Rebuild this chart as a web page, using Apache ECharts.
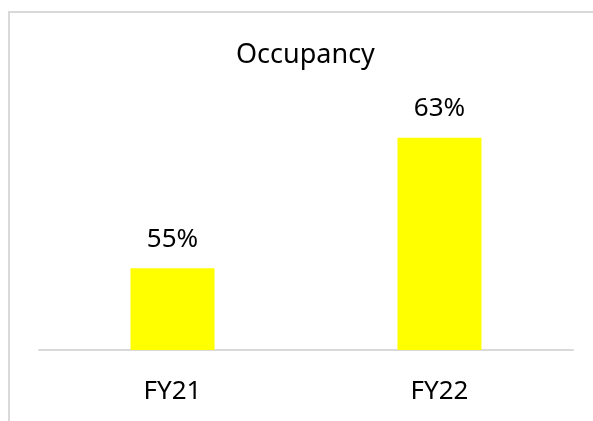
<!DOCTYPE html>
<html>
<head>
<meta charset="utf-8">
<script src="https://cdn.jsdelivr.net/npm/echarts@6/dist/echarts.min.js"></script>
<style>
  html, body { margin: 0; padding: 0; background: #fff; }
  #chart { width: 593px; height: 421px; }
</style>
</head>
<body>
<div id="chart"></div>
<script>
var categories = ['FY21', 'FY22']
var occupancy = [55, 63]

var chart = echarts.init(document.getElementById('chart'))
var font = 'Noto Sans'

var option = {
  animation: false,
  title: {
    text: 'Occupancy',
    left: 236,
    top: 42,
    padding: 0,
    textStyle: { fontFamily: font, fontSize: 27, fontWeight: 'normal', color: '#000' }
  },
  // outer chart frame, runs off the right and bottom edges
  graphic: [
    {
      type: 'rect',
      silent: true,
      shape: { x: 9, y: 12, width: 620, height: 440 },
      style: { fill: 'none', stroke: '#d9d9d9', lineWidth: 2 }
    }
  ],
  grid: { left: 39, right: 20, top: 23.4, bottom: 71 },
  xAxis: {
    type: 'category',
    data: categories,
    axisLine: { lineStyle: { color: '#d9d9d9', width: 2 } },
    axisTick: { show: false },
    axisLabel: { fontFamily: font, fontSize: 26, color: '#000', margin: 29 }
  },
  yAxis: {
    type: 'value',
    min: 50,
    max: 70,
    show: false,
    splitLine: { show: false }
  },
  series: [
    {
      type: 'bar',
      data: occupancy,
      barWidth: 84,
      itemStyle: { color: '#ffff00' },
      label: {
        show: true,
        position: 'top',
        distance: 16,
        formatter: '{c}%',
        fontFamily: font,
        fontSize: 26,
        color: '#000'
      }
    }
  ]
}
chart.setOption(option)
</script>
</body>
</html>
